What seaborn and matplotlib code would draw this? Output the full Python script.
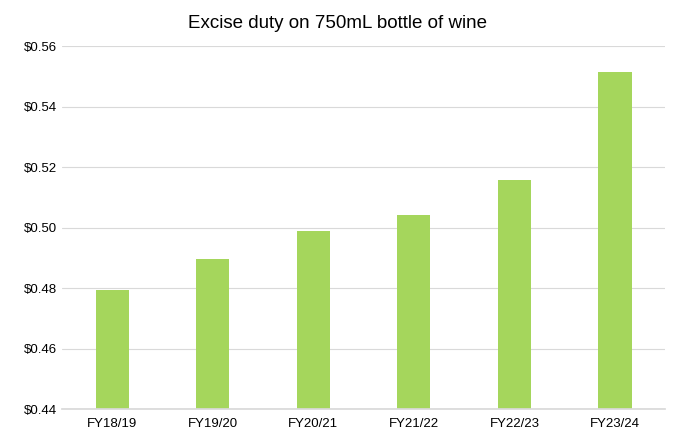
import matplotlib
matplotlib.use("Agg")
import matplotlib.pyplot as plt
import seaborn as sns
import pandas as pd

categories = ["FY18/19", "FY19/20", "FY20/21", "FY21/22", "FY22/23", "FY23/24"]
values = [0.4793, 0.4896, 0.4988, 0.5041, 0.5157, 0.5514]
yticks = [0.44, 0.46, 0.48, 0.50, 0.52, 0.54, 0.56]

sns.set_theme(style="white")
plt.rcParams['font.family'] = ['Liberation Sans', 'DejaVu Sans']

df = pd.DataFrame({"cat": categories, "val": values})
fig = plt.figure(figsize=(6.74, 4.40), dpi=100)
ax = fig.add_axes([0.092, 0.070, 0.895, 0.825])
sns.barplot(data=df, x="cat", y="val", color="#A5D65C", width=0.33, ax=ax,
            saturation=1, linewidth=0)
ax.set_ylim(0.44, 0.56)
ax.set_yticks(yticks)
ax.set_yticklabels([f"${v:.2f}" for v in yticks], fontsize=9.5)
ax.tick_params(axis="x", labelsize=9.5, length=0, pad=6, colors="black")
ax.tick_params(axis="y", length=0, colors="black")
ax.yaxis.grid(True, color="#D9D9D9", linewidth=0.8)
ax.set_axisbelow(True)
for s in ["top", "right", "left"]:
    ax.spines[s].set_visible(False)
ax.spines["bottom"].set_color("#D9D9D9")
ax.set_xlabel("")
ax.set_ylabel("")
fig.suptitle("Excise duty on 750mL bottle of wine", fontsize=13.5, y=0.965, color="black")
fig.savefig("out.png", dpi=100)
